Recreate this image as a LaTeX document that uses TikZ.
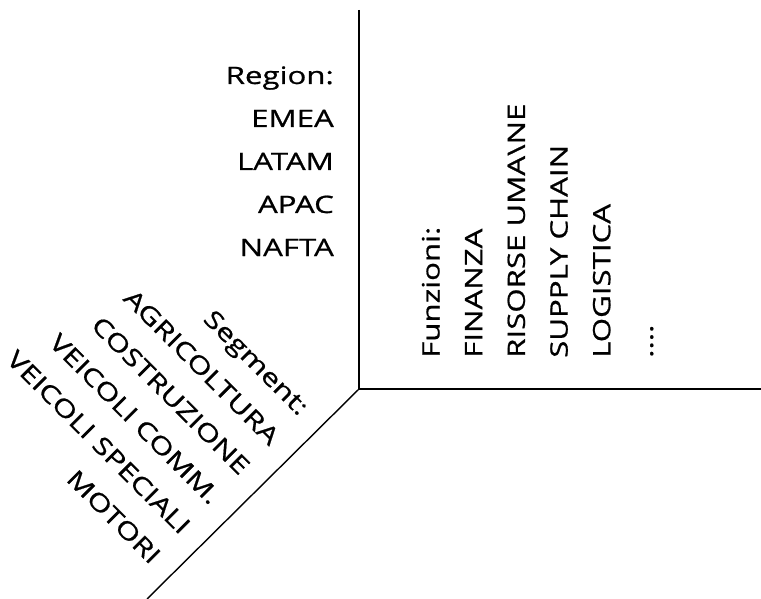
\documentclass[tikz,border=0pt]{standalone}
\usepackage{fontspec}
\setmainfont{Open Sans}[FakeStretch=1.3,FakeBold=0.8]

\begin{document}
\begin{tikzpicture}
[%%%%%%%%%%%%%%%%%%%%%%%%%%%%%%
x=1pt,y=-1pt,
axis/.style={draw=black,line width=1.4pt},
lab/.style={inner sep=0pt,font=\fontsize{24}{29}\selectfont},
]%%%%%%%%%%%%%%%%%%%%%%%%%%%%%%
\useasboundingbox (0,0) rectangle (761,599);

\coordinate (O) at (359,389);
\coordinate (top) at (359,10);
\coordinate (right) at (761,389);
\coordinate (low) at (147,599);
\draw[axis] (top) -- (O) -- (right);
\draw[axis] (O) -- (low);

% region list, upper left
\foreach \t [count=\i from 0] in {Region:,EMEA,LATAM,APAC,NAFTA}
\node[lab,anchor=base east] (reg\i) at (334,84+43*\i) {\t};

% functions, written upwards
\foreach \t [count=\i from 0] in {Funzioni:,FINANZA,RISORSE UMA\textbackslash NE,SUPPLY CHAIN,LOGISTICA}
\node[lab,rotate=90,anchor=base west] (fun\i) at (439.5+42.7*\i,358) {\t};
\node[lab,rotate=90,anchor=base west] (fun5) at (653,358) {....};

% segments along the diagonal
\foreach \t [count=\i from 0] in {Segment:,AGRICOLTURA,COSTRUZIONE,VEICOLI COMM.,VEICOLI SPECIALI,MOTORI}
\node[lab,rotate=-45,anchor=base east] (seg\i) at ({(716-118-59.4*\i)/2},{(716+118+59.4*\i)/2}) {\t};
\end{tikzpicture}
\end{document}
